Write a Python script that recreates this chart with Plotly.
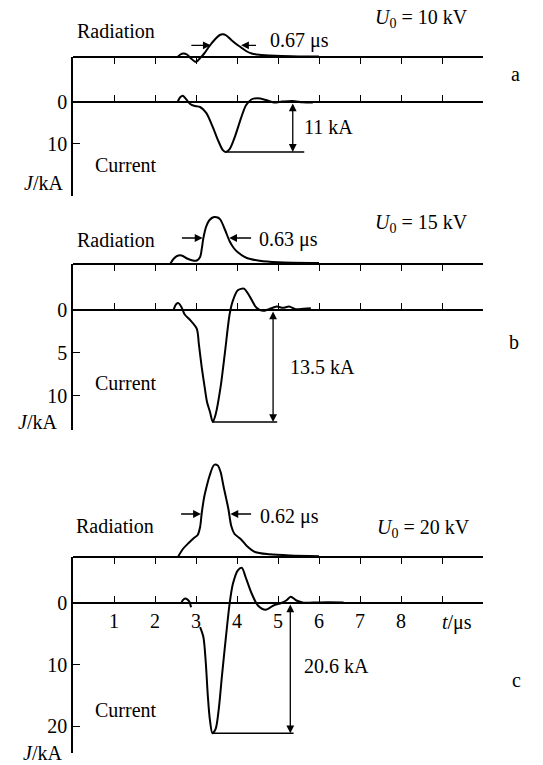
import plotly.graph_objects as go

W, H = 543, 765
FONT = "Liberation Serif, Times New Roman, serif"
FS = 20

# ---------------- data ----------------
# time axis
t_ticks = [1, 2, 3, 4, 5, 6, 7, 8, 9]
t_ticklabels = ["1", "2", "3", "4", "5", "6", "7", "8", ""]

# panel a, U0 = 10 kV
rad_a_t = [2.55, 2.62, 2.69, 2.78, 2.88, 2.97, 3.02, 3.1, 3.2, 3.33, 3.47, 3.58, 3.65,
           3.74, 3.86, 3.98, 4.1, 4.22, 4.36, 4.55, 4.8, 5.1, 5.5, 6.0]
rad_a = [0, 2.5, 3.5, 2.5, -1.5, -4.5, -4.5, -1, 3.5, 11, 18, 22, 22.7,
         21.5, 17, 13, 9.5, 6, 3.5, 2.2, 1.5, 1, 0.6, 0.4]
cur_a_t = [2.55, 2.62, 2.68, 2.75, 2.85, 2.95, 3.1, 3.25, 3.4, 3.55, 3.65, 3.72, 3.82,
           3.95, 4.1, 4.22, 4.35, 4.5, 4.7, 4.9, 5.1, 5.35, 5.6, 5.85]
cur_a = [0, -1.2, -1.5, -0.8, 0.4, 0.9, 1.2, 2.6, 5.8, 9.5, 11.5, 12.0, 11.3,
         8.3, 3.8, 0.8, -0.6, -0.9, -0.5, 0.1, -0.1, -0.25, 0.05, 0.15]

# panel b, U0 = 15 kV
rad_b_t = [2.37, 2.45, 2.55, 2.65, 2.78, 2.92, 3.02, 3.1, 3.14, 3.18, 3.25, 3.33, 3.44,
           3.53, 3.6, 3.71, 3.82, 3.92, 4.02, 4.24, 4.55, 5.0, 6.0]
rad_b = [0, 5, 8.3, 8.5, 5.5, 3.5, 3.5, 7, 15, 26, 37.7, 44, 47,
         46.5, 44, 34, 22.7, 16, 11.7, 6, 3.3, 1.8, 1.0]
cur_b_t = [2.45, 2.52, 2.57, 2.65, 2.72, 2.87, 3.02, 3.07, 3.14, 3.21, 3.27, 3.34, 3.41,
           3.48, 3.6, 3.71, 3.82, 3.9, 4.02, 4.17, 4.32, 4.47, 4.63, 4.78, 4.97, 5.12,
           5.27, 5.43, 5.62, 5.8]
cur_b = [0, -0.7, -0.8, -0.3, 0.5, 1.25, 2.2, 4.0, 6.7, 9.0, 10.8, 11.9, 13.1,
         12.2, 9.0, 4.8, 0.5, -1.1, -2.3, -2.5, -1.5, -0.3, 0.1, -0.1, -0.4, -0.25,
         -0.4, -0.1, -0.15, -0.2]

# panel c, U0 = 20 kV
rad_c_t = [2.56, 2.68, 2.82, 2.95, 3.04, 3.1, 3.14, 3.2, 3.25, 3.33, 3.44, 3.53, 3.6,
           3.67, 3.79, 3.86, 3.94, 4.09, 4.24, 4.44, 4.79, 5.3, 6.0]
rad_c = [0, 8, 14, 19, 22, 30, 44, 60, 69, 81, 92, 91.5, 85,
         71, 48, 31, 23, 18, 11, 5, 2.7, 1.5, 0.8]
cur_c_t = [2.64, 2.7, 2.76, 2.83, 2.88, None, 3.1, 3.18, 3.24, 3.29, 3.34, 3.4, 3.48,
           3.56, 3.63, 3.73, 3.82, 3.9, 4.02, 4.12, 4.21, 4.36, 4.51, 4.7, 4.89, 5.08,
           5.2, 5.31, 5.45, 5.62, 6.0, 6.6]
cur_c = [0, -0.6, -0.7, -0.3, 0.7, None, 3.9, 5.5, 9.8, 15.2, 19.0, 21.1, 20.4,
         16.9, 12.0, 5.5, 0.1, -3.1, -5.3, -5.7, -4.2, -1.5, 0.4, 1.1, 0.4, 0.0,
         -0.4, -1.0, -0.4, -0.05, -0.1, -0.1]

voltages = ["10", "15", "20"]
widths = ["0.67 μs", "0.63 μs", "0.62 μs"]
amplitudes = ["11 kA", "13.5 kA", "20.6 kA"]
letters = ["a", "b", "c"]
j_ticks = [[0, 10], [0, 5, 10], [0, 10, 20]]

rad_t = [rad_a_t, rad_b_t, rad_c_t]
rad = [rad_a, rad_b, rad_c]
cur_t = [cur_a_t, cur_b_t, cur_c_t]
cur = [cur_a, cur_b, cur_c]

# ---------------- geometry (pixels) ----------------
X0, X1 = 73, 483
geom = [
    dict(top=57, zero=102, bottom=196, s=4.16,
         fw_y=11.7, fw_l=(2.85, 3.36), fw_r=(4.5, 4.1), amp_t=5.36, line_end=5.64,
         rad_lbl=(75, 31), u_lbl=(373, 18), w_lbl=(268, 40), let=(515, 74),
         cur_lbl=(93, 165), j_lbl=(65, 183), amp_lbl=(302, 127)),
    dict(top=264, zero=310, bottom=430, s=8.55,
         fw_y=26, fw_l=(2.62, 3.16), fw_r=(4.38, 3.81), amp_t=4.88, line_end=4.98,
         rad_lbl=(75, 240), u_lbl=(373, 223), w_lbl=(257, 239), let=(514, 342),
         cur_lbl=(93, 383), j_lbl=(59, 422), amp_lbl=(288, 367)),
    dict(top=557, zero=603, bottom=753, s=6.17,
         fw_y=43, fw_l=(2.6, 3.12), fw_r=(4.38, 3.84), amp_t=5.3, line_end=5.38,
         rad_lbl=(74, 526), u_lbl=(375, 528), w_lbl=(258, 516), let=(516, 680),
         cur_lbl=(93, 710), j_lbl=(64, 753), amp_lbl=(302, 666)),
]


def pxx(x):
    return x / W


def pyy(y):
    return 1 - y / H


def nm(n):
    return "" if n == 1 else str(n)


fig = go.Figure()
layout = {}
annotations = []
font = dict(family=FONT, size=FS, color="black")

for i, g in enumerate(geom):
    nx, nxt = 2 * i + 1, 2 * i + 2
    ny, nyr = 2 * i + 1, 2 * i + 2
    xid, xtid = "x" + nm(nx), "x" + nm(nxt)
    yid, yrid = "y" + nm(ny), "y" + nm(nyr)

    # current axis
    j_top = -(g["zero"] - g["top"]) / g["s"]
    j_bot = (g["bottom"] - g["zero"]) / g["s"]
    layout["yaxis" + nm(ny)] = dict(
        domain=[pyy(g["bottom"]), pyy(g["top"])], range=[j_bot, j_top],
        anchor=xid, showline=True, linecolor="black", linewidth=1.5,
        ticks="inside", ticklen=7, tickwidth=1.3, tickcolor="black",
        tickvals=j_ticks[i], tickfont=font, showgrid=False, zeroline=False,
        fixedrange=True)
    # radiation axis (above the top line)
    dom_top_px = max(0, g["top"] - 110)
    layout["yaxis" + nm(nyr)] = dict(
        domain=[pyy(g["top"] + 10), pyy(dom_top_px)],
        range=[-10, g["top"] - dom_top_px], anchor=xtid, visible=False,
        fixedrange=True)
    # zero line axis
    layout["xaxis" + nm(nx)] = dict(
        domain=[pxx(X0), pxx(X1)], range=[0, 10], anchor="free",
        position=pyy(g["zero"]), side="bottom", showline=True, linecolor="black",
        linewidth=1.5, ticks="inside", ticklen=6, tickwidth=1.3, tickcolor="black",
        tickvals=t_ticks, ticktext=t_ticklabels, showticklabels=(i == 2),
        tickfont=font, showgrid=False, zeroline=False, fixedrange=True)
    # top line axis (radiation baseline)
    layout["xaxis" + nm(nxt)] = dict(
        domain=[pxx(X0), pxx(X1)], range=[0, 10], anchor="free",
        position=pyy(g["top"]), side="top", showline=True, linecolor="black",
        linewidth=1.5, ticks="inside", ticklen=6, tickwidth=1.3, tickcolor="black",
        tickvals=t_ticks, showticklabels=False, showgrid=False, zeroline=False,
        fixedrange=True)

    # traces
    fig.add_trace(go.Scatter(x=rad_t[i], y=rad[i], xaxis=xtid, yaxis=yrid,
                             mode="lines", line=dict(color="black", width=2,
                                                     shape="spline", smoothing=0.8),
                             showlegend=False, hoverinfo="skip"))
    fig.add_trace(go.Scatter(x=cur_t[i], y=cur[i], xaxis=xid, yaxis=yid,
                             mode="lines", connectgaps=False,
                             line=dict(color="black", width=2, shape="spline",
                                       smoothing=0.8),
                             showlegend=False, hoverinfo="skip"))
    vals = [v for v in cur[i] if v is not None]
    jpk = max(vals)
    tpk = cur_t[i][cur[i].index(jpk)]
    fig.add_trace(go.Scatter(x=[tpk, g["line_end"]], y=[jpk, jpk], xaxis=xid,
                             yaxis=yid, mode="lines",
                             line=dict(color="black", width=1.5),
                             showlegend=False, hoverinfo="skip"))

    # amplitude double arrow
    annotations.append(dict(x=g["amp_t"], y=jpk, ax=g["amp_t"], ay=0, xref=xid,
                            yref=yid, axref=xid, ayref=yid, text="", showarrow=True,
                            arrowhead=2, startarrowhead=2, arrowside="end+start",
                            arrowsize=1.2, arrowwidth=1.3, arrowcolor="black"))
    # FWHM arrows
    for (ta, th) in (g["fw_l"], g["fw_r"]):
        annotations.append(dict(x=th, y=g["fw_y"], ax=ta, ay=g["fw_y"], xref=xtid,
                                yref=yrid, axref=xtid, ayref=yrid, text="",
                                showarrow=True, arrowhead=2, arrowsize=1.2,
                                arrowwidth=1.3, arrowcolor="black"))

    def txt(t, pos, xanchor="left"):
        annotations.append(dict(text=t, x=pxx(pos[0]), y=pyy(pos[1]), xref="paper",
                                yref="paper", xanchor=xanchor, yanchor="middle",
                                showarrow=False, font=font))

    txt("Radiation", g["rad_lbl"])
    txt("<i>U</i><sub>0</sub> = " + voltages[i] + " kV", g["u_lbl"])
    txt(widths[i], g["w_lbl"])
    txt(letters[i], g["let"], "center")
    txt("Current", g["cur_lbl"])
    txt("<i>J</i>/kA", g["j_lbl"], "right")
    txt(amplitudes[i], g["amp_lbl"])

annotations.append(dict(text="<i>t</i>/μs", x=pxx(457), y=pyy(622), xref="paper",
                        yref="paper", xanchor="center", yanchor="middle",
                        showarrow=False, font=font))

fig.update_layout(width=W, height=H, margin=dict(l=0, r=0, t=0, b=0),
                  paper_bgcolor="white", plot_bgcolor="rgba(0,0,0,0)",
                  showlegend=False, annotations=annotations, font=font, **layout)

fig.write_html("out.html", config={"displayModeBar": False},
               post_script="document.body.style.margin='0';"
                           "document.body.style.overflow='hidden';")
